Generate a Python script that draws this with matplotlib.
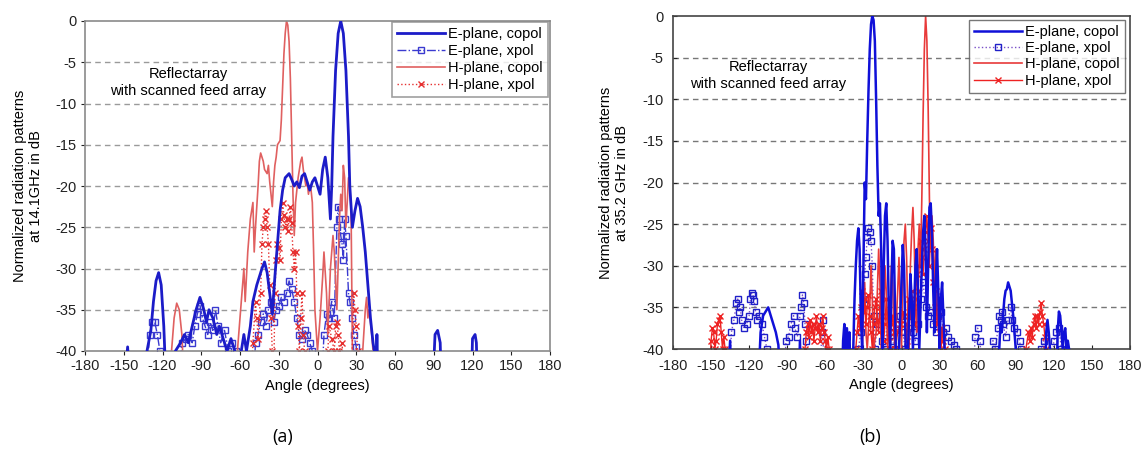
import numpy as np
import matplotlib.pyplot as plt

# (angle in degrees, level in dB); -45 means "below the -40 dB floor"
a_e_copol = [(-150, -45), (-147, -39.5), (-145, -45), (-134, -45), (-132, -40), (-129, -37.5), (-127, -34),
             (-125, -31.5), (-123, -30.5), (-121, -32), (-119, -37), (-117, -45), (-113, -45), (-110, -40),
             (-106, -39), (-103, -38), (-100, -39), (-97, -37), (-94, -35), (-91, -33.5), (-88, -35),
             (-86, -36.5), (-84, -35), (-81, -36), (-78, -38), (-76, -37), (-73, -38.5), (-70, -40),
             (-67, -38.5), (-64, -40), (-62, -45), (-59, -40), (-57, -38), (-55, -40), (-52, -37), (-50, -34),
             (-47, -32), (-45, -31), (-43, -30), (-41, -29.2), (-39, -30.5), (-37, -33), (-35, -35.5),
             (-33, -31), (-31, -27), (-29, -23), (-27, -20.5), (-25, -19), (-22, -18.5), (-20, -19.2),
             (-18, -20), (-16, -19.5), (-14, -20.2), (-12, -18.8), (-10, -18.5), (-8, -19.5), (-6, -20.5),
             (-4, -19.5), (-2, -19), (0, -20), (2, -21), (4, -18), (6, -16.5), (8, -19), (10, -24), (11, -20),
             (12, -14), (14, -6), (16, -1.5), (18, 0), (20, -1.5), (22, -6), (24, -14), (25, -20), (27, -25),
             (29, -23), (31, -21.5), (33, -22.5), (35, -25), (37, -28), (39, -32), (41, -36), (43, -39),
             (44, -40), (45, -45), (46, -38), (47, -45), (89, -45), (91, -38), (93, -37.5), (95, -39),
             (96, -45), (119, -45), (120, -38.5), (122, -38), (123, -39), (124, -45)]

a_e_xpol = [(-133, -45), (-130, -38), (-128, -36.5), (-126, -36.5), (-124, -38), (-122, -40), (-119, -45),
            (-108, -45), (-105, -39), (-102, -38.5), (-100, -38), (-97, -39), (-95, -37), (-93, -35.5),
            (-91, -34.5), (-89, -36), (-87, -37), (-85, -38), (-83, -36.5), (-81, -37.5), (-79, -35),
            (-77, -37), (-75, -39), (-72, -37.5), (-69, -40), (-66, -39), (-63, -40), (-60, -45), (-50, -45),
            (-48, -39), (-46, -38), (-44, -36.5), (-42, -35.5), (-40, -37), (-38, -35), (-36, -34),
            (-34, -36.5), (-32, -35), (-30, -34.5), (-28, -33.5), (-26, -34), (-24, -33), (-22, -31.5),
            (-20, -32.5), (-18, -34), (-16, -36), (-14, -38), (-12, -38.5), (-10, -37.5), (-8, -38),
            (-6, -39), (-4, -40), (-2, -45), (3, -45), (5, -38), (7, -35.5), (9, -36), (11, -34), (13, -36),
            (15, -25), (16, -22.5), (17, -24), (18, -26), (19, -27), (20, -29), (21, -24), (22, -26),
            (24, -33), (25, -34), (27, -36), (28, -38), (30, -39.5), (31, -45)]

a_h_copol = [(-115, -45), (-113, -40), (-111, -36), (-109, -34.2), (-107, -35), (-105, -38), (-103, -45),
             (-64, -45), (-62, -40), (-60, -36), (-58, -32), (-57, -30), (-56, -34), (-54, -28), (-52, -24),
             (-50, -22), (-49, -28), (-48, -25), (-46, -20), (-45, -17), (-44, -16), (-42, -17), (-41, -18),
             (-39, -18.5), (-38, -17.5), (-37, -19.5), (-36, -21), (-35, -22.5), (-34, -19.5), (-33, -17.5),
             (-32, -16.5), (-31, -15), (-29, -14.5), (-28, -12), (-27, -8), (-26, -4), (-25, -1.5), (-24, 0),
             (-23, -0.5), (-22, -2.5), (-21, -7), (-20, -14), (-19, -21), (-18, -26), (-17, -22), (-15, -19),
             (-13, -17), (-12, -16.5), (-11, -18), (-10, -19), (-9, -20), (-8, -19.5), (-7, -21), (-6, -20),
             (-5, -20.5), (-4, -22), (-3, -28), (-2, -35), (0, -40), (2, -36), (4, -31), (5, -28), (7, -33),
             (8, -38), (10, -30), (12, -26), (13, -28), (15, -35), (17, -24), (18, -21), (19, -23),
             (20, -17.5), (21, -19), (22, -25), (23, -22), (24, -19), (25, -20), (26, -23), (27, -40),
             (29, -45), (33, -45), (35, -40), (37, -35), (38, -33.5), (39, -36), (40, -35), (42, -38),
             (43, -40), (44, -45)]

a_h_xpol = [(-52, -45), (-50, -39), (-48, -34), (-47, -36), (-46, -38.5), (-44, -33), (-43, -27), (-42, -25),
            (-41, -24), (-40, -23), (-39, -25), (-38, -27), (-37, -32), (-36, -36), (-35, -40), (-34, -45),
            (-33, -33), (-32, -29), (-31, -27), (-30, -27.5), (-29, -29), (-28, -24), (-27, -22),
            (-26, -23.5), (-25, -25), (-24, -24), (-23, -25.5), (-22, -24), (-21, -22.5), (-20, -24.5),
            (-19, -28), (-18, -30), (-17, -28), (-16, -33), (-15, -37), (-14, -40), (-13, -36), (-12, -33),
            (-11, -38), (-10, -40), (-9, -45), (6, -45), (8, -40), (9, -37), (11, -38.5), (13, -40),
            (14, -37), (15, -36.5), (16, -38), (17, -40), (19, -39), (21, -45), (26, -45), (28, -33),
            (29, -35), (30, -37), (31, -40), (32, -45)]

b_e_copol = [(-137, -45), (-135, -39), (-134, -45), (-113, -45), (-111, -38), (-109, -36), (-107, -35.5),
             (-105, -35), (-103, -36), (-101, -37), (-99, -38), (-97, -39.5), (-95, -45), (-81, -45),
             (-80, -39), (-79, -45), (-47, -45), (-46, -39), (-45, -37), (-44, -40), (-43, -37.5), (-42, -40),
             (-41, -38), (-40, -45), (-38, -40), (-37, -34), (-36, -30), (-35, -27), (-34, -25.5), (-33, -28),
             (-32, -36), (-31, -40), (-30, -30), (-29, -20), (-28, -22), (-27, -15), (-26, -9), (-25, -4),
             (-24, -1), (-23, 0), (-22, -0.5), (-21, -3), (-20, -10), (-19, -18), (-18, -24), (-17, -22.5),
             (-16, -28), (-15, -40), (-14, -30), (-13, -24), (-12, -22.5), (-11, -27), (-10, -35), (-9, -40),
             (-8, -33), (-7, -27), (-6, -28), (-5, -36), (-4, -45), (-2, -40), (0, -32), (1, -27.5), (2, -30),
             (3, -38), (4, -45), (6, -36), (7, -31), (8, -34), (9, -40), (10, -35), (11, -30), (12, -28),
             (13, -33), (14, -40), (16, -30), (17, -26), (18, -24), (19, -28), (20, -38), (21, -30),
             (22, -23), (23, -22.5), (24, -26), (25, -33), (26, -38), (27, -32), (28, -28), (29, -33),
             (30, -40), (31, -34), (32, -32), (33, -36), (34, -40), (35, -45), (76, -45), (77, -40), (78, -37),
             (79, -38), (80, -36), (81, -34), (82, -33), (83, -32.8), (84, -32), (85, -32.5), (86, -33),
             (87, -34.5), (88, -36), (89, -38), (90, -40), (91, -45), (113, -45), (114, -38), (115, -36.5),
             (116, -38), (117, -40), (118, -45), (122, -45), (123, -38), (124, -35.5), (125, -36), (126, -38),
             (127, -40), (128, -38), (129, -37.5), (130, -40), (131, -39), (132, -40), (133, -45)]

b_e_xpol = [(-136, -45), (-134, -38), (-132, -36.5), (-130, -34.5), (-129, -34), (-128, -35.5), (-127, -35),
            (-126, -36.5), (-124, -37.5), (-122, -37), (-120, -36), (-119, -34), (-118, -33.3), (-117, -33.5),
            (-116, -34.2), (-115, -35.5), (-114, -36.5), (-112, -36), (-110, -37), (-108, -38.5), (-106, -40),
            (-104, -45), (-93, -45), (-91, -39), (-89, -38.5), (-87, -37), (-85, -36), (-84, -37.5),
            (-82, -38.5), (-80, -36), (-79, -35), (-78, -33.5), (-77, -34.5), (-76, -37), (-75, -39),
            (-74, -45), (-64, -45), (-63, -38), (-62, -36.5), (-61, -45), (-36, -45), (-34, -40), (-32, -38),
            (-30, -34), (-29, -31), (-28, -29), (-27, -26.5), (-26, -25.5), (-25, -26), (-24, -27), (-23, -30),
            (-22, -36), (-21, -40), (-19, -37), (-17, -36), (-15, -39), (-13, -40), (-11, -36), (-9, -38),
            (-7, -39), (-5, -40), (-3, -37), (-1, -36), (1, -38), (3, -40), (5, -37.5), (7, -36), (9, -38),
            (11, -39), (13, -37), (15, -34), (17, -32), (19, -35), (21, -36), (23, -35.5), (25, -37),
            (27, -38), (29, -36), (31, -35.5), (33, -38), (35, -37.5), (37, -38.5), (39, -39), (41, -39.5),
            (43, -40), (45, -45), (56, -45), (58, -38.5), (60, -37.5), (62, -39), (63, -45), (70, -45),
            (72, -39), (74, -40), (76, -37.5), (77, -36), (78, -36.5), (79, -35.5), (80, -37), (82, -38.5),
            (84, -36.5), (86, -35), (87, -36.5), (89, -37.5), (91, -38), (93, -39), (94, -40), (95, -45),
            (108, -45), (110, -40), (112, -39), (114, -45), (118, -45), (120, -39), (122, -38), (124, -37.5),
            (126, -40), (127, -45)]

b_h_copol = [(-32, -45), (-31, -40), (-30, -35), (-29, -32), (-28, -38), (-27, -40), (-25, -35), (-24, -30),
             (-23, -34), (-22, -40), (-20, -38), (-19, -33), (-18, -28), (-17, -32), (-16, -40), (-14, -36),
             (-13, -30), (-12, -33), (-11, -40), (-9, -36), (-8, -30), (-7, -32), (-6, -38), (-5, -40),
             (-3, -33), (-2, -29), (-1, -35), (0, -40), (1, -32), (2, -27), (3, -25), (4, -29), (5, -36),
             (6, -40), (7, -30), (8, -26), (9, -23), (10, -27), (11, -35), (12, -38), (13, -28), (14, -25),
             (15, -30), (16, -22), (17, -12), (18, -4), (19, 0), (20, -3), (21, -11), (22, -22), (23, -28),
             (24, -24), (25, -27), (26, -33), (27, -28), (28, -32), (29, -38), (30, -35), (31, -40),
             (33, -37), (34, -40), (35, -45)]

b_h_xpol = [(-152, -45), (-150, -39), (-149, -37.5), (-148, -38), (-147, -40), (-146, -39), (-145, -37),
            (-144, -36.5), (-143, -36), (-142, -38), (-141, -40), (-140, -38.5), (-139, -40), (-138, -45),
            (-77, -45), (-76, -40), (-75, -38), (-74, -37), (-73, -38.5), (-72, -36.5), (-71, -38), (-70, -37),
            (-69, -39), (-68, -37.5), (-67, -36), (-66, -38), (-65, -37), (-64, -39), (-63, -37.5), (-62, -36),
            (-61, -38), (-60, -39), (-59, -40), (-58, -38.5), (-57, -40), (-56, -45), (-37, -45), (-36, -40),
            (-35, -38), (-34, -36), (-33, -37.5), (-32, -35), (-31, -33), (-30, -35.5), (-29, -34), (-28, -37),
            (-27, -35), (-26, -33.5), (-25, -36), (-24, -38), (-23, -40), (-22, -37), (-21, -35), (-20, -34),
            (-19, -36.5), (-18, -38), (-17, -35), (-16, -33), (-15, -36), (-14, -39), (-13, -37), (-12, -34),
            (-11, -36), (-10, -38.5), (-9, -40), (-8, -37), (-7, -36), (-6, -38), (-5, -40), (-3, -38),
            (-1, -37), (1, -35.5), (3, -37), (4, -39), (5, -36), (6, -34), (7, -36), (8, -33), (9, -35),
            (10, -37), (11, -34), (12, -31), (13, -33), (14, -30), (15, -27), (16, -29), (17, -31), (18, -28),
            (19, -26), (20, -24), (21, -27), (22, -30), (23, -25.5), (24, -28), (25, -32), (26, -35),
            (27, -33), (28, -37), (29, -36), (30, -38), (31, -40), (32, -37.5), (33, -39), (34, -40),
            (35, -45), (96, -45), (98, -40), (100, -38), (101, -39), (102, -37.5), (103, -38.5), (104, -37),
            (105, -36), (106, -37.5), (107, -36), (108, -37), (109, -35.5), (110, -34.5), (111, -36),
            (112, -37), (113, -38.5), (114, -40), (115, -45)]

x_ticks = [-180, -150, -120, -90, -60, -30, 0, 30, 60, 90, 120, 150, 180]
y_ticks = [0, -5, -10, -15, -20, -25, -30, -35, -40]
labels = ['E-plane, copol', 'E-plane, xpol', 'H-plane, copol', 'H-plane, xpol']

plt.rcParams['font.family'] = ['Liberation Sans', 'DejaVu Sans']
plt.rcParams['axes.unicode_minus'] = False

W, H = 1146, 453
fig = plt.figure(figsize=(W / 100, H / 100), dpi=100)


def xy(data):
    d = np.array(data, dtype=float)
    return d[:, 0], d[:, 1]


def setup(ax, frame, grid, tickdir, pad):
    ax.set_xlim(-180, 180)
    ax.set_ylim(-40, 0)
    ax.set_xticks(x_ticks)
    ax.set_yticks(y_ticks)
    ax.tick_params(labelsize=10.5, colors='#222222', length=3, direction=tickdir, pad=pad)
    for s in ax.spines.values():
        s.set_color(frame)
        s.set_linewidth(1.2)
    for v in y_ticks[1:-1]:
        ax.axhline(v, color=grid, lw=1, ls=(0, (4, 3)), zorder=0)
    ax.set_xlabel('Angle (degrees)', fontsize=10.5, labelpad=4)


# ---- (a) 14.1 GHz ----
ax1 = fig.add_axes([85 / W, 1 - 351 / H, 465 / W, 330 / H])
setup(ax1, '#8a8a8a', '#9a9a9a', 'out', 3)
ax1.plot(*xy(a_e_copol), color='#1c1cc8', lw=2, label=labels[0], zorder=3)
ax1.plot(*xy(a_e_xpol), color='#3a3ad0', lw=1, ls='-.', marker='s', ms=4, mfc='none', mew=1,
         label=labels[1], zorder=2)
ax1.plot(*xy(a_h_copol), color='#e06060', lw=1.2, label=labels[2], zorder=2)
ax1.plot(*xy(a_h_xpol), color='#e63030', lw=1, ls=':', marker='x', ms=4.5, mew=1, label=labels[3], zorder=2)
ax1.text(-100, -5.6, 'Reflectarray\nwith scanned feed array', ha='center', va='top', fontsize=10.5,
         linespacing=1.3)
fig.text(28 / W, 1 - 186 / H, 'Normalized radiation patterns\nat 14.1GHz in dB', rotation=90,
         ha='center', va='center', fontsize=10.5, multialignment='center')
leg1 = ax1.legend(loc='upper right', bbox_to_anchor=(548 / W, 1 - 22 / H), bbox_transform=fig.transFigure,
                  borderaxespad=0, fontsize=10.5, frameon=True, fancybox=False, handlelength=3.3,
                  labelspacing=0.2, borderpad=0.35, handletextpad=0.2)
leg1.get_frame().set_edgecolor('#888888')
leg1.get_frame().set_linewidth(1.2)

# ---- (b) 35.2 GHz ----
ax2 = fig.add_axes([673 / W, 1 - 349 / H, 457 / W, 333 / H])
setup(ax2, '#444444', '#777777', 'in', 7)
ax2.plot(*xy(b_e_copol), color='#1010d8', lw=1.8, label=labels[0], zorder=3)
ax2.plot(*xy(b_e_xpol), color='#7a50c8', lw=1, ls=':', marker='s', ms=4, mfc='none', mec='#2020c8', mew=1,
         label=labels[1], zorder=2)
ax2.plot(*xy(b_h_copol), color='#e83a3a', lw=1.2, label=labels[2], zorder=2)
ax2.plot(*xy(b_h_xpol), color='#ee2222', lw=1, marker='x', ms=4.5, mew=1, label=labels[3], zorder=2)
ax2.text(-105, -5.3, 'Reflectarray\nwith scanned feed array', ha='center', va='top', fontsize=10.5,
         linespacing=1.3)
fig.text(614 / W, 1 - 183 / H, 'Normalized radiation patterns\nat 35.2 GHz in dB', rotation=90,
         ha='center', va='center', fontsize=10.5, multialignment='center')
leg2 = ax2.legend(loc='upper right', bbox_to_anchor=(1125 / W, 1 - 20 / H), bbox_transform=fig.transFigure,
                  borderaxespad=0, fontsize=10.5, frameon=True, fancybox=False, handlelength=3.3,
                  labelspacing=0.15, borderpad=0.35, handletextpad=0.2)
leg2.get_frame().set_edgecolor('#555555')
leg2.get_frame().set_linewidth(1.0)

fig.text(283 / W, 1 - 437 / H, '(a)', ha='center', va='center', fontsize=13, family='Open Sans')
fig.text(870 / W, 1 - 437 / H, '(b)', ha='center', va='center', fontsize=13, family='Open Sans')

fig.savefig('out.png', dpi=100, facecolor='white')
